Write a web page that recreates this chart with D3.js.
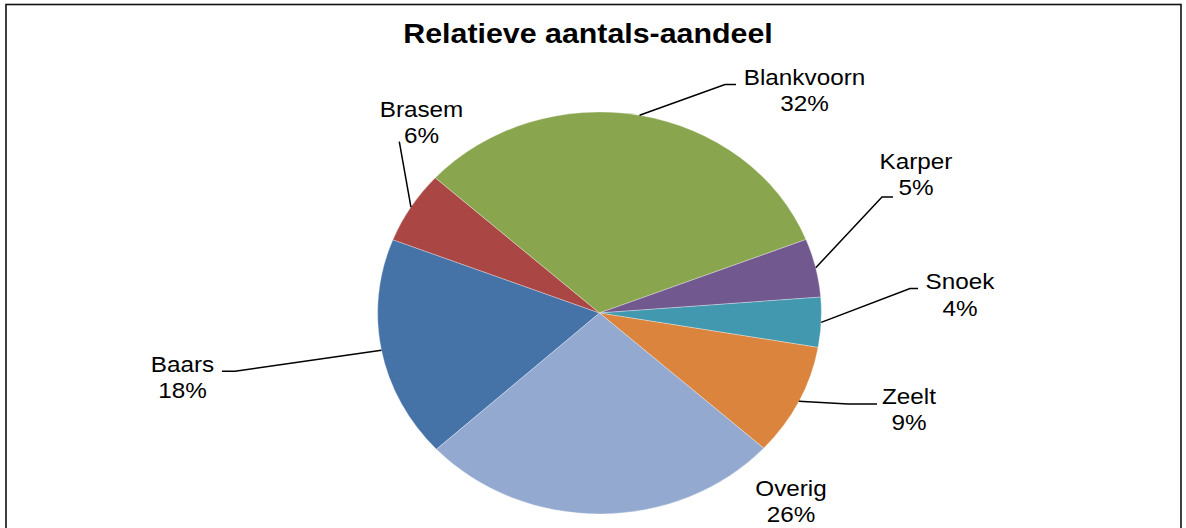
<!DOCTYPE html>
<html>
<head>
<meta charset="utf-8">
<script src="https://cdn.jsdelivr.net/npm/d3@7"></script>
<style>
  html, body { margin: 0; padding: 0; background: #fff; }
  svg { display: block; }
  text { font-family: "Liberation Sans", Arial, sans-serif; fill: #000; }
</style>
</head>
<body>
<svg id="chart" width="1186" height="528"></svg>
<script>
// ---- data ----
const title = "Relatieve aantals-aandeel";
const categories = ["Baars", "Brasem", "Blankvoorn", "Karper", "Snoek", "Zeelt", "Overig"];
const values = [17.8, 5.8, 32.3, 4.7, 4.0, 9.0, 26.4];
const colors = ["#4572A7", "#AA4643", "#89A54E", "#71588F", "#4198AF", "#DB843D", "#93A9CF"];

// ---- layout (not data) ----
const W = 1186, H = 528;
const S = 1.104;           // horizontal stretch of the original picture
const cx = 599.5, cy = 313, R = 201;
const firstSliceAngle = 227.3; // degrees, clockwise from 12 o'clock
// label anchor (center x, first baseline y) and leader points (elbow, end) per category
const labelLayout = [
  { x: 182.5, y: 371.5, leader: [[235, 371.3], [222, 371.3]] },
  { x: 421.5, y: 116.5, leader: [[399.3, 141.7]] },
  { x: 804.5, y: 85,    leader: [[725, 84.5], [736, 84.5]] },
  { x: 916,   y: 169,   leader: [[882, 197], [893, 197]] },
  { x: 960,   y: 289.3, leader: [[910, 288.5], [918, 288.5]] },
  { x: 909,   y: 404,   leader: [[848, 404], [877, 404]] },
  { x: 791,   y: 496,   leader: null }
];
const lineH = 26.5;

const svg = d3.select("#chart");

// outer frame
svg.append("rect")
  .attr("x", 6).attr("y", 4.5).attr("width", 1175).attr("height", 600)
  .attr("fill", "none").attr("stroke", "#111").attr("stroke-width", 1.6);

// title
svg.append("text")
  .attr("transform", `translate(588,42.5) scale(${S},1)`)
  .attr("text-anchor", "middle")
  .style("font-weight", "bold")
  .style("font-size", "27.5px")
  .text(title);

const total = d3.sum(values);
const data = categories.map((c, i) => ({ name: c, value: values[i], color: colors[i], i }));

const a0 = firstSliceAngle * Math.PI / 180;
const pie = d3.pie().value(d => d.value).sort(null)
  .startAngle(a0).endAngle(a0 + 2 * Math.PI);
const arcs = pie(data);
const arc = d3.arc().innerRadius(0).outerRadius(R);

const g = svg.append("g").attr("transform", `translate(${cx},${cy}) scale(${S},1)`);
g.selectAll("path").data(arcs).join("path")
  .attr("d", arc)
  .attr("fill", d => d.data.color)
  .attr("stroke", "#ffffff")
  .attr("stroke-opacity", 0.5)
  .attr("stroke-width", 0.6);

// leader lines
const edgePoint = d => {
  const a = (d.startAngle + d.endAngle) / 2;
  return [cx + S * R * Math.sin(a), cy - R * Math.cos(a)];
};
arcs.forEach((d, k) => {
  const L = labelLayout[k];
  if (!L.leader) return;
  const pts = [edgePoint(d)].concat(L.leader);
  svg.append("path")
    .attr("d", d3.line()(pts))
    .attr("fill", "none")
    .attr("stroke", "#000")
    .attr("stroke-width", 1.5);
});

// labels
const fmt = v => Math.round(v / total * 100) + "%";
arcs.forEach((d, k) => {
  const L = labelLayout[k];
  const t = svg.append("text")
    .attr("transform", `translate(${L.x},${L.y}) scale(${S},1)`)
    .attr("text-anchor", "middle")
    .style("font-size", "22px");
  t.append("tspan").attr("x", 0).attr("y", 0).text(d.data.name);
  t.append("tspan").attr("x", 0).attr("y", lineH).text(fmt(d.data.value));
});
</script>
</body>
</html>
